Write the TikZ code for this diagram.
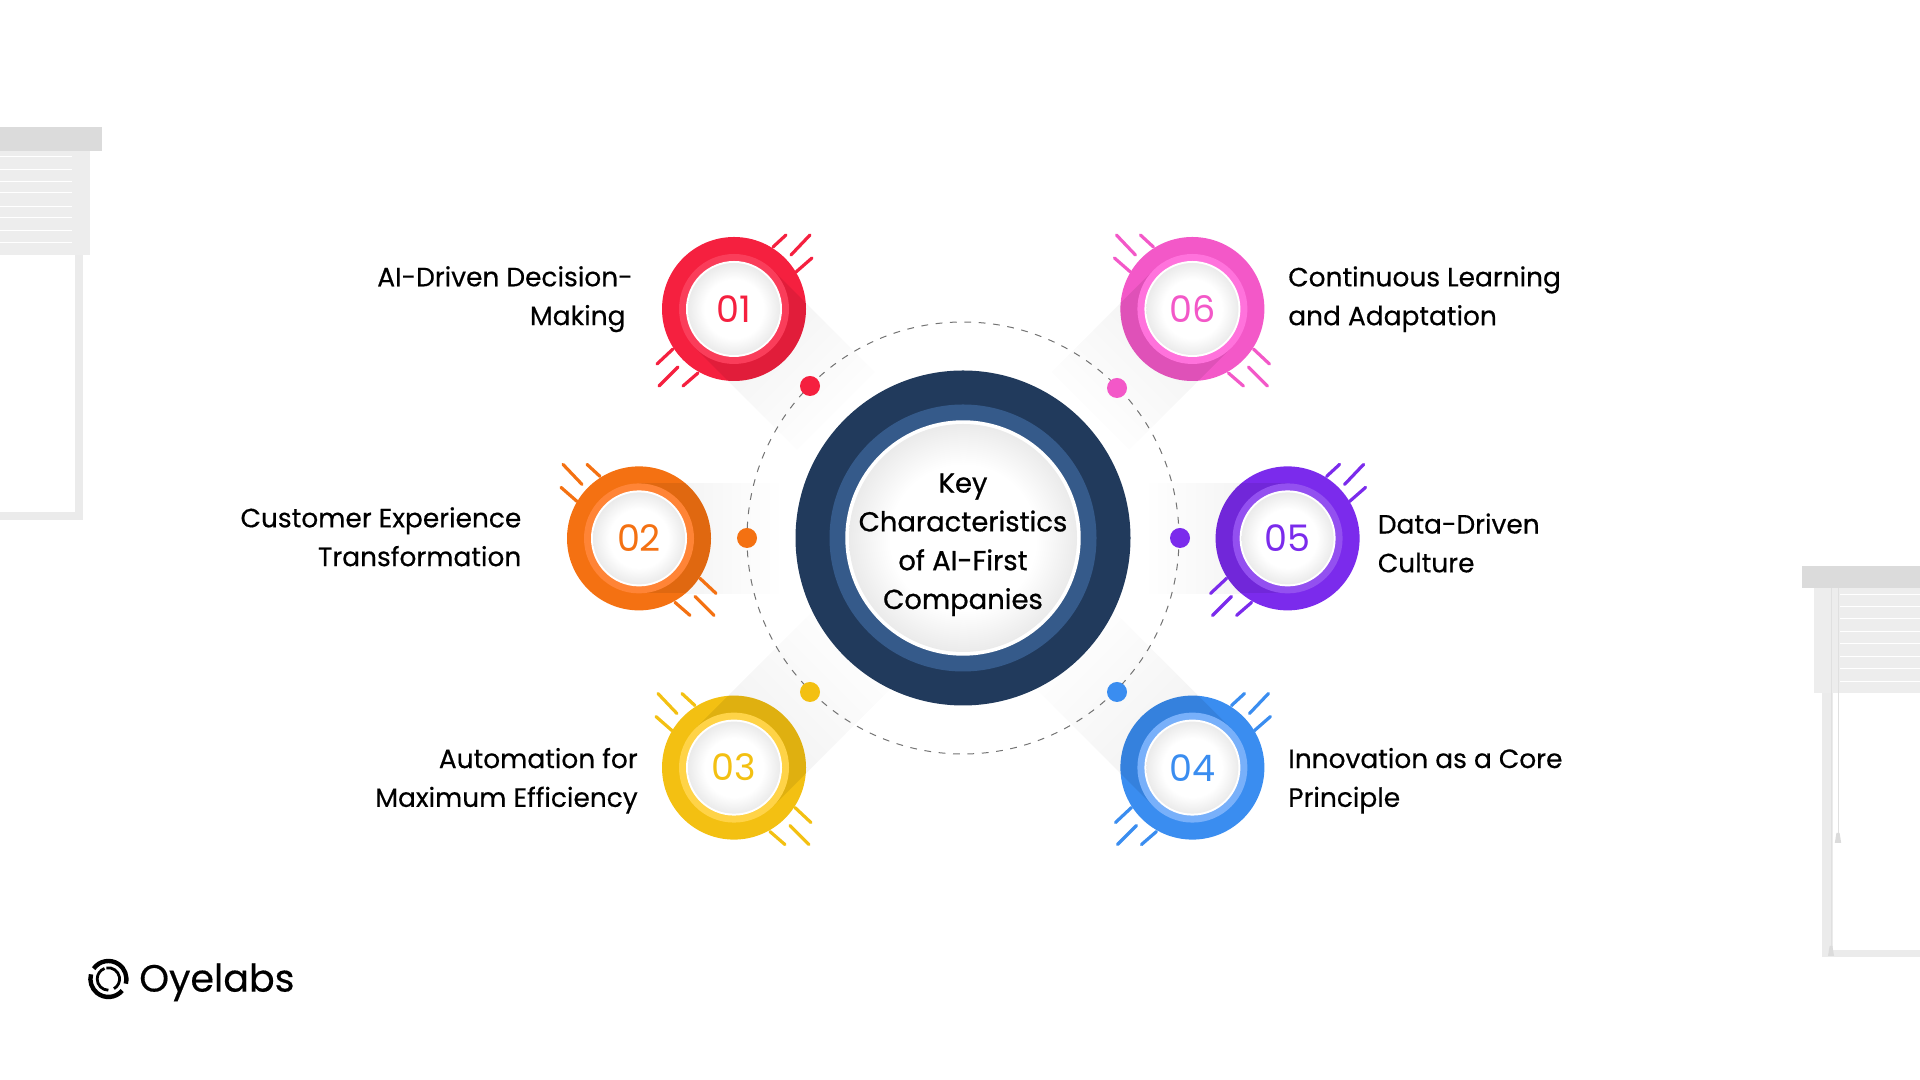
\documentclass[tikz,border=0pt]{standalone}
\usepackage{fontspec}
\setmainfont{Poppins}
\newfontfamily\mediumfont[FakeBold=0.8]{Poppins}
\newfontfamily\labelfont[FakeBold=0.4]{Poppins}
\usetikzlibrary{shadings}
\definecolor{c01}{HTML}{F5203F}
\definecolor{r01}{HTML}{FA3D5A}
\definecolor{c02}{HTML}{F47112}
\definecolor{r02}{HTML}{FF8436}
\definecolor{c03}{HTML}{F3C012}
\definecolor{r03}{HTML}{FFD347}
\definecolor{c04}{HTML}{3A8DF0}
\definecolor{r04}{HTML}{78B0FA}
\definecolor{c05}{HTML}{7B2BEC}
\definecolor{r05}{HTML}{9350F0}
\definecolor{c06}{HTML}{F358C8}
\definecolor{r06}{HTML}{FF72DC}
\definecolor{navy}{HTML}{213A5C}
\definecolor{midnavy}{HTML}{355A8A}
\pgfdeclareradialshading{platefill}{\pgfpoint{0bp}{0bp}}{color(0bp)=(white); color(16bp)=(white); color(25bp)=(black!8); color(50bp)=(black!8)}
\tikzset{
  disc/.style={circle,inner sep=0pt,draw=none},
  plate/.style={disc,shading=platefill},
  longshadow/.style={rectangle,inner sep=0pt,anchor=west,minimum height=27.5mm,top color=white,bottom color=black!6},
  crescent/.style={rectangle,inner sep=0pt,anchor=west,minimum height=27.5mm,minimum width=20mm,fill=black,fill opacity=.08},
  tickline/.style={line width=.8mm,line cap=round},
  lefttext/.style={align=right,anchor=east,font=\labelfont\fontsize{18.8}{27.6}\selectfont,inner sep=0pt},
  righttext/.style={align=left,anchor=west,font=\labelfont\fontsize{18.8}{27.6}\selectfont,inner sep=0pt},
  numtext/.style={font=\fontsize{26}{26}\selectfont},
  blind/.style={fill=black!7,draw=none}
}
\begin{document}
\begin{tikzpicture}
\useasboundingbox (0mm,0mm) rectangle (480mm,270mm);
% left window
\fill[black!8] (18.75mm,206.25mm) rectangle (20.75mm,140mm);
\fill[black!8] (0mm,142mm) rectangle (20.75mm,140mm);
\fill[blind] (0mm,232.25mm) rectangle (22.5mm,206.25mm);
\draw[white,line width=.25mm] (0mm,230.75mm) -- (18mm,230.75mm) (0mm,227.5mm) -- (18mm,227.5mm) (0mm,224.5mm) -- (18mm,224.5mm) (0mm,221.75mm) -- (18mm,221.75mm) (0mm,218.25mm) -- (18mm,218.25mm) (0mm,215.5mm) -- (18mm,215.5mm) (0mm,212.25mm) -- (18mm,212.25mm) (0mm,209.25mm) -- (18mm,209.25mm);
\fill[black!14] (0mm,238.25mm) rectangle (25.5mm,232.25mm);
% right window
\fill[black!8] (455.5mm,96.75mm) rectangle (458.25mm,30.75mm);
\fill[black!8] (455.5mm,32.5mm) rectangle (480mm,30.75mm);
\fill[blind] (453.5mm,123mm) rectangle (480mm,96.75mm);
\draw[white,line width=.25mm] (460mm,121.25mm) -- (480mm,121.25mm) (460mm,118.25mm) -- (480mm,118.25mm) (460mm,115.25mm) -- (480mm,115.25mm) (460mm,112mm) -- (480mm,112mm) (460mm,109mm) -- (480mm,109mm) (460mm,105.75mm) -- (480mm,105.75mm) (460mm,102.75mm) -- (480mm,102.75mm) (460mm,99.5mm) -- (480mm,99.5mm);
\fill[black!14] (450.5mm,128.5mm) rectangle (480mm,123mm);
\draw[black!12,line width=.25mm] (457.75mm,123mm) -- (457.75mm,32.5mm);
\draw[black!12,line width=.25mm] (459.5mm,123mm) -- (459.5mm,61.75mm);
\fill[black!14] (459.1mm,61.75mm) -- (459.9mm,61.75mm) -- (460.3mm,59.25mm) -- (458.7mm,59.25mm) -- cycle;
\fill[black!14] (457.4mm,33.5mm) -- (458.1mm,33.5mm) -- (458.5mm,31mm) -- (457mm,31mm) -- cycle;
% long shadows
\node[longshadow,minimum width=36mm,rotate=-45,shading angle=-135] (sh_01) at (183.5mm,192.75mm) {};
\node[longshadow,minimum width=36mm,rotate=0,shading angle=-90] (sh_02) at (159.75mm,135.4mm) {};
\node[longshadow,minimum width=44mm,rotate=45,shading angle=-45] (sh_03) at (183.5mm,78.1mm) {};
\node[longshadow,minimum width=44mm,rotate=135,shading angle=45] (sh_04) at (298.1mm,78.1mm) {};
\node[longshadow,minimum width=36mm,rotate=180,shading angle=90] (sh_05) at (321.9mm,135.4mm) {};
\node[longshadow,minimum width=36mm,rotate=225,shading angle=135] (sh_06) at (298.1mm,192.75mm) {};
% orbit
\node[disc,draw=black!55,line width=.25mm,dash pattern=on 1.7mm off 1.9mm,minimum size=108mm] (orbit) at (240.75mm,135.5mm) {};
\node[disc,fill=c01,minimum size=5mm] (d_01) at (202.5mm,173.5mm) {};
\node[disc,fill=c02,minimum size=5mm] (d_02) at (186.75mm,135.5mm) {};
\node[disc,fill=c03,minimum size=5mm] (d_03) at (202.5mm,97mm) {};
\node[disc,fill=c04,minimum size=5mm] (d_04) at (279.25mm,97mm) {};
\node[disc,fill=c05,minimum size=5mm] (d_05) at (295mm,135.5mm) {};
\node[disc,fill=c06,minimum size=5mm] (d_06) at (279.25mm,173mm) {};
% centre
\node[disc,fill=navy,minimum size=83.75mm] (hub) at (240.75mm,135.5mm) {};
\node[disc,fill=midnavy,minimum size=66.75mm] (hub_ring) at (240.75mm,135.5mm) {};
\node[disc,fill=white,minimum size=58.85mm] (hub_rim) at (240.75mm,135.5mm) {};
\node[plate,minimum size=57mm] (hub_plate) at (240.75mm,135.5mm) {};
\node[align=center,inner sep=0pt,font=\mediumfont\fontsize{19.5}{27.6}\selectfont] (hub_text) at (240.75mm,133.8mm) {Key\\Characteristics\\of AI-First\\Companies};
% badge 01
\draw[tickline,color=c01,shift={(183.5mm,192.75mm)}] (9.75mm,15.5mm) -- (13mm,18.5mm) (14.25mm,13.5mm) -- (19mm,18.5mm) (15.5mm,9.25mm) -- (19.5mm,12.75mm) (-19.25mm,-13.75mm) -- (-15.25mm,-10mm) (-18.75mm,-19.25mm) -- (-14mm,-14.5mm) (-12.75mm,-19.25mm) -- (-9mm,-16mm);
\node[disc,fill=c01,minimum size=36mm] (c_01) at (183.5mm,192.75mm) {};
\begin{scope}
\clip (183.5mm,192.75mm) circle (18mm);
\node[crescent,rotate=-45] (cr_01) at (183.5mm,192.75mm) {};
\end{scope}
\node[disc,fill=r01,minimum size=27.5mm] (m_01) at (183.5mm,192.75mm) {};
\node[disc,fill=white,minimum size=24mm] (e_01) at (183.5mm,192.75mm) {};
\node[plate,minimum size=23mm,numtext,text=c01] (w_01) at (183.5mm,192.75mm) {01};
% badge 02
\draw[tickline,color=c02,xscale=-1,shift={(-159.75mm,135.4mm)}] (9.75mm,15.5mm) -- (13mm,18.5mm) (14.25mm,13.5mm) -- (19mm,18.5mm) (15.5mm,9.25mm) -- (19.5mm,12.75mm) (-19.25mm,-13.75mm) -- (-15.25mm,-10mm) (-18.75mm,-19.25mm) -- (-14mm,-14.5mm) (-12.75mm,-19.25mm) -- (-9mm,-16mm);
\node[disc,fill=c02,minimum size=36mm] (c_02) at (159.75mm,135.4mm) {};
\begin{scope}
\clip (159.75mm,135.4mm) circle (18mm);
\node[crescent,rotate=0] (cr_02) at (159.75mm,135.4mm) {};
\end{scope}
\node[disc,fill=r02,minimum size=27.5mm] (m_02) at (159.75mm,135.4mm) {};
\node[disc,fill=white,minimum size=24mm] (e_02) at (159.75mm,135.4mm) {};
\node[plate,minimum size=23mm,numtext,text=c02] (w_02) at (159.75mm,135.4mm) {02};
% badge 03
\draw[tickline,color=c03,xscale=-1,shift={(-183.5mm,78.1mm)}] (9.75mm,15.5mm) -- (13mm,18.5mm) (14.25mm,13.5mm) -- (19mm,18.5mm) (15.5mm,9.25mm) -- (19.5mm,12.75mm) (-19.25mm,-13.75mm) -- (-15.25mm,-10mm) (-18.75mm,-19.25mm) -- (-14mm,-14.5mm) (-12.75mm,-19.25mm) -- (-9mm,-16mm);
\node[disc,fill=c03,minimum size=36mm] (c_03) at (183.5mm,78.1mm) {};
\begin{scope}
\clip (183.5mm,78.1mm) circle (18mm);
\node[crescent,rotate=45] (cr_03) at (183.5mm,78.1mm) {};
\end{scope}
\node[disc,fill=r03,minimum size=27.5mm] (m_03) at (183.5mm,78.1mm) {};
\node[disc,fill=white,minimum size=24mm] (e_03) at (183.5mm,78.1mm) {};
\node[plate,minimum size=23mm,numtext,text=c03] (w_03) at (183.5mm,78.1mm) {03};
% badge 04
\draw[tickline,color=c04,shift={(298.1mm,78.1mm)}] (9.75mm,15.5mm) -- (13mm,18.5mm) (14.25mm,13.5mm) -- (19mm,18.5mm) (15.5mm,9.25mm) -- (19.5mm,12.75mm) (-19.25mm,-13.75mm) -- (-15.25mm,-10mm) (-18.75mm,-19.25mm) -- (-14mm,-14.5mm) (-12.75mm,-19.25mm) -- (-9mm,-16mm);
\node[disc,fill=c04,minimum size=36mm] (c_04) at (298.1mm,78.1mm) {};
\begin{scope}
\clip (298.1mm,78.1mm) circle (18mm);
\node[crescent,rotate=135] (cr_04) at (298.1mm,78.1mm) {};
\end{scope}
\node[disc,fill=r04,minimum size=27.5mm] (m_04) at (298.1mm,78.1mm) {};
\node[disc,fill=white,minimum size=24mm] (e_04) at (298.1mm,78.1mm) {};
\node[plate,minimum size=23mm,numtext,text=c04] (w_04) at (298.1mm,78.1mm) {04};
% badge 05
\draw[tickline,color=c05,shift={(321.9mm,135.4mm)}] (9.75mm,15.5mm) -- (13mm,18.5mm) (14.25mm,13.5mm) -- (19mm,18.5mm) (15.5mm,9.25mm) -- (19.5mm,12.75mm) (-19.25mm,-13.75mm) -- (-15.25mm,-10mm) (-18.75mm,-19.25mm) -- (-14mm,-14.5mm) (-12.75mm,-19.25mm) -- (-9mm,-16mm);
\node[disc,fill=c05,minimum size=36mm] (c_05) at (321.9mm,135.4mm) {};
\begin{scope}
\clip (321.9mm,135.4mm) circle (18mm);
\node[crescent,rotate=180] (cr_05) at (321.9mm,135.4mm) {};
\end{scope}
\node[disc,fill=r05,minimum size=27.5mm] (m_05) at (321.9mm,135.4mm) {};
\node[disc,fill=white,minimum size=24mm] (e_05) at (321.9mm,135.4mm) {};
\node[plate,minimum size=23mm,numtext,text=c05] (w_05) at (321.9mm,135.4mm) {05};
% badge 06
\draw[tickline,color=c06,xscale=-1,shift={(-298.1mm,192.75mm)}] (9.75mm,15.5mm) -- (13mm,18.5mm) (14.25mm,13.5mm) -- (19mm,18.5mm) (15.5mm,9.25mm) -- (19.5mm,12.75mm) (-19.25mm,-13.75mm) -- (-15.25mm,-10mm) (-18.75mm,-19.25mm) -- (-14mm,-14.5mm) (-12.75mm,-19.25mm) -- (-9mm,-16mm);
\node[disc,fill=c06,minimum size=36mm] (c_06) at (298.1mm,192.75mm) {};
\begin{scope}
\clip (298.1mm,192.75mm) circle (18mm);
\node[crescent,rotate=225] (cr_06) at (298.1mm,192.75mm) {};
\end{scope}
\node[disc,fill=r06,minimum size=27.5mm] (m_06) at (298.1mm,192.75mm) {};
\node[disc,fill=white,minimum size=24mm] (e_06) at (298.1mm,192.75mm) {};
\node[plate,minimum size=23mm,numtext,text=c06] (w_06) at (298.1mm,192.75mm) {06};
% labels
\node[lefttext] (l_01) at (158.25mm,195.2mm) {AI-Driven Decision-\\Making\hspace*{1.8mm}};
\node[lefttext] (l_02) at (130.4mm,135.8mm) {Customer Experience\\Transformation};
\node[lefttext] (l_03) at (159.5mm,74.8mm) {Automation for\\Maximum Efficiency};
\node[righttext] (l_04) at (322mm,74.8mm) {Innovation as a Core\\Principle};
\node[righttext] (l_05) at (344.4mm,134.25mm) {Data-Driven\\Culture};
\node[righttext] (l_06) at (322mm,195.2mm) {Continuous Learning\\and Adaptation};
% logo
\draw[line width=1.1mm] ([shift={(145:4.5mm)}]27.1mm,25.25mm) arc (145:-15:4.5mm);
\draw[line width=1.1mm] ([shift={(-40:4.5mm)}]27.1mm,25.25mm) arc (-40:-195:4.5mm);
\draw[line width=.7mm] ([shift={(100:2.8mm)}]27.1mm,25.25mm) arc (100:-60:2.8mm);
\draw[line width=.7mm] ([shift={(-90:2.8mm)}]27.1mm,25.25mm) arc (-90:-250:2.8mm);
\node[anchor=base west,inner sep=0pt,font=\labelfont\fontsize{27}{27}\selectfont] (logo_text) at (34.75mm,22.1mm) {Oyelabs};
\end{tikzpicture}
\end{document}
